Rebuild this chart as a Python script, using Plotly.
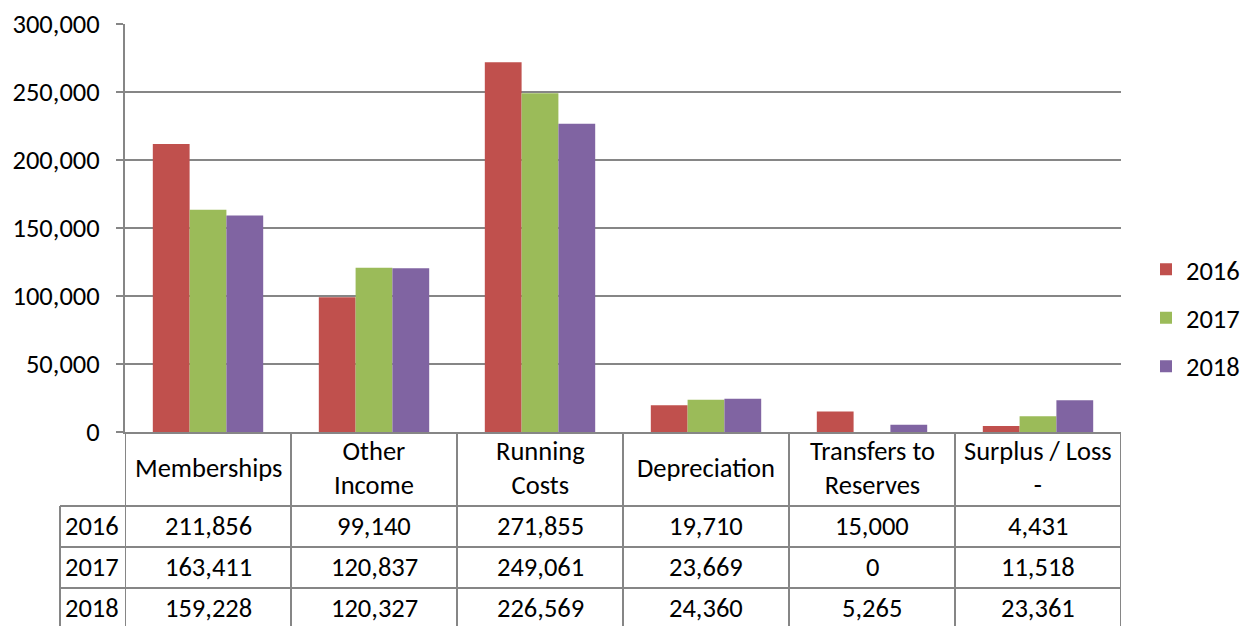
import plotly.graph_objects as go

# Income / expenditure per category and year
categories = ["Memberships", "Other<br>Income", "Running<br>Costs", "Depreciation",
              "Transfers to<br>Reserves", "Surplus / Loss<br>-"]
years = ["2016", "2017", "2018"]
values_2016 = [211856, 99140, 271855, 19710, 15000, 4431]
values_2017 = [163411, 120837, 249061, 23669, 0, 11518]
values_2018 = [159228, 120327, 226569, 24360, 5265, 23361]
colors = ["#C0504D", "#9BBB59", "#8064A2"]

series = [values_2016, values_2017, values_2018]

W, H = 1242, 626
ML, MR, MT, MB = 125, 121, 24, 194
plot_w = W - ML - MR
plot_h = H - MT - MB

FONT = "Carlito, Lato, sans-serif"
FS = 26.5
GRID = "#868686"

def py_to_paper(py):
    return (H - MB - py) / plot_h

def px_to_paper(px):
    return (px - ML) / plot_w

fig = go.Figure()
x_idx = list(range(len(categories)))
for yr, vals, col in zip(years, series, colors):
    fig.add_trace(go.Bar(x=x_idx, y=vals, name=yr, marker_color=col,
                         marker_line_width=0, legendgroup=yr))

shapes = []
annotations = []

# data table under the plot
header_top = 432
header_bot = 506
row_lines = [506, 547, 588, 629]
line_style = dict(color=GRID, width=2)

# horizontal lines across the category columns
for yy in [header_bot] + row_lines:
    shapes.append(dict(type="line", xref="x", yref="paper",
                       x0=-0.5, x1=len(categories) - 0.5,
                       y0=py_to_paper(yy), y1=py_to_paper(yy), line=line_style))
# horizontal lines for the year label column
for yy in row_lines:
    shapes.append(dict(type="line", xref="paper", yref="paper",
                       x0=px_to_paper(60), x1=0,
                       y0=py_to_paper(yy), y1=py_to_paper(yy), line=line_style))
# vertical lines between categories
for i in range(len(categories) + 1):
    shapes.append(dict(type="line", xref="x", yref="paper",
                       x0=i - 0.5, x1=i - 0.5,
                       y0=py_to_paper(header_top), y1=py_to_paper(629), line=line_style))
# left edge of the year column
shapes.append(dict(type="line", xref="paper", yref="paper",
                   x0=px_to_paper(60), x1=px_to_paper(60),
                   y0=py_to_paper(header_bot), y1=py_to_paper(629), line=line_style))

# header labels
for i, cat in enumerate(categories):
    annotations.append(dict(x=i, y=py_to_paper((header_top + header_bot) / 2 - 1),
                            xref="x", yref="paper", text=cat, showarrow=False,
                            font=dict(family=FONT, size=FS, color="black"),
                            align="center", xanchor="center", yanchor="middle"))
# row labels and values
for r, (yr, vals) in enumerate(zip(years, series)):
    yc = py_to_paper(row_lines[r] + 20)
    annotations.append(dict(x=px_to_paper(92), y=yc, xref="paper", yref="paper",
                            text=yr, showarrow=False,
                            font=dict(family=FONT, size=FS, color="black"),
                            xanchor="center", yanchor="middle"))
    for i, v in enumerate(vals):
        annotations.append(dict(x=i, y=yc, xref="x", yref="paper",
                                text=f"{v:,}", showarrow=False,
                                font=dict(family=FONT, size=FS, color="black"),
                                xanchor="center", yanchor="middle"))

fig.update_layout(
    width=W, height=H,
    margin=dict(l=ML, r=MR, t=MT, b=MB, pad=0, autoexpand=False),
    paper_bgcolor="white", plot_bgcolor="white",
    barmode="group", bargap=0.335, bargroupgap=0,
    font=dict(family=FONT, size=FS, color="black"),
    shapes=shapes, annotations=annotations,
    legend=dict(x=px_to_paper(1146), y=py_to_paper(318), xanchor="left", yanchor="middle",
                tracegroupgap=11, font=dict(family=FONT, size=FS, color="black"),
                itemwidth=30, traceorder="grouped", bgcolor="rgba(0,0,0,0)"),
    showlegend=True,
)
fig.update_xaxes(type="linear", range=[-0.5, len(categories) - 0.5],
                 showticklabels=False, showgrid=False, zeroline=False,
                 showline=True, linecolor=GRID, linewidth=2, ticks="")
fig.update_yaxes(range=[0, 300000], dtick=50000, tickformat=",",
                 showgrid=True, gridcolor=GRID, gridwidth=2,
                 zeroline=False, showline=True, linecolor=GRID, linewidth=2,
                 ticks="outside", ticklen=7, tickcolor=GRID, tickwidth=2,
                 ticklabelstandoff=11,
                 tickfont=dict(family=FONT, size=FS, color="black"))

fig.write_html("out.html")
